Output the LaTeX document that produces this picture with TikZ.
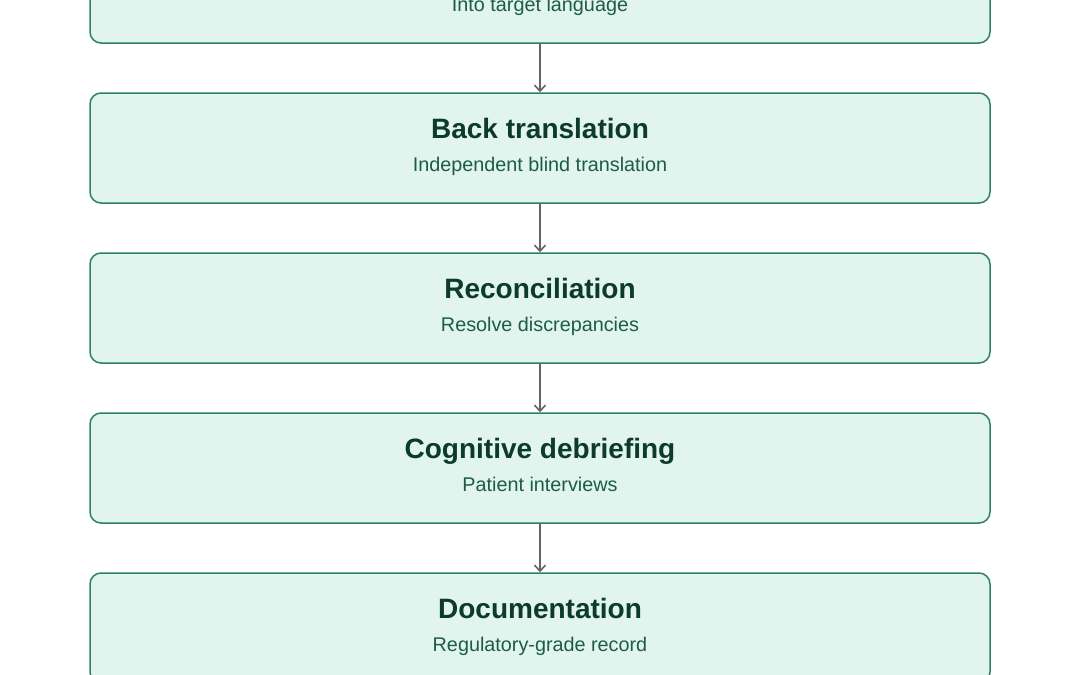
\documentclass[tikz,border=0pt]{standalone}
\usepackage{fontspec}
\setmainfont{Liberation Sans}
\usetikzlibrary{arrows.meta}
\definecolor{boxfill}{HTML}{E1F4EE}
\definecolor{boxline}{HTML}{2E8264}
\definecolor{titlecol}{HTML}{0C3A2C}
\definecolor{subcol}{HTML}{1C5C48}
\definecolor{arrowcol}{HTML}{646464}
\begin{document}
\begin{tikzpicture}[x=1pt,y=-1pt,
  stepbox/.style={draw=boxline, fill=boxfill, line width=1.5pt, rounded corners=11pt,
    minimum width=900pt, minimum height=110pt, inner sep=0pt},
  ttl/.style={font=\fontsize{28}{30}\selectfont\bfseries, text=titlecol, anchor=base, inner sep=0pt},
  sub/.style={font=\fontsize{19.8}{22}\selectfont, text=subcol, anchor=base, inner sep=0pt},
  flow/.style={draw=arrowcol, line width=1.6pt, -{Straight Barb[length=6pt,width=11pt]}}]
\useasboundingbox (0,0) rectangle (1080,675);
\clip (0,0) rectangle (1080,675);
\node[stepbox] (b1) at (540,-12) {};
\node[stepbox] (b2) at (540,148) {};
\node[stepbox] (b3) at (540,308) {};
\node[stepbox] (b4) at (540,468) {};
\node[stepbox] (b5) at (540,628) {};
\node[sub] (s1) at (540,11.5) {Into target language};
\node[ttl] (t2) at (540,138.6) {Back translation};
\node[sub] (s2) at (540,171) {Independent blind translation};
\node[ttl] (t3) at (540,298.6) {Reconciliation};
\node[sub] (s3) at (540,331) {Resolve discrepancies};
\node[ttl] (t4) at (540,458.6) {Cognitive debriefing};
\node[sub] (s4) at (540,491) {Patient interviews};
\node[ttl] (t5) at (540,618.6) {Documentation};
\node[sub] (s5) at (540,651) {Regulatory-grade record};
\draw[flow] (b1.south) -- (b2.north);
\draw[flow] (b2.south) -- (b3.north);
\draw[flow] (b3.south) -- (b4.north);
\draw[flow] (b4.south) -- (b5.north);
\end{tikzpicture}
\end{document}
